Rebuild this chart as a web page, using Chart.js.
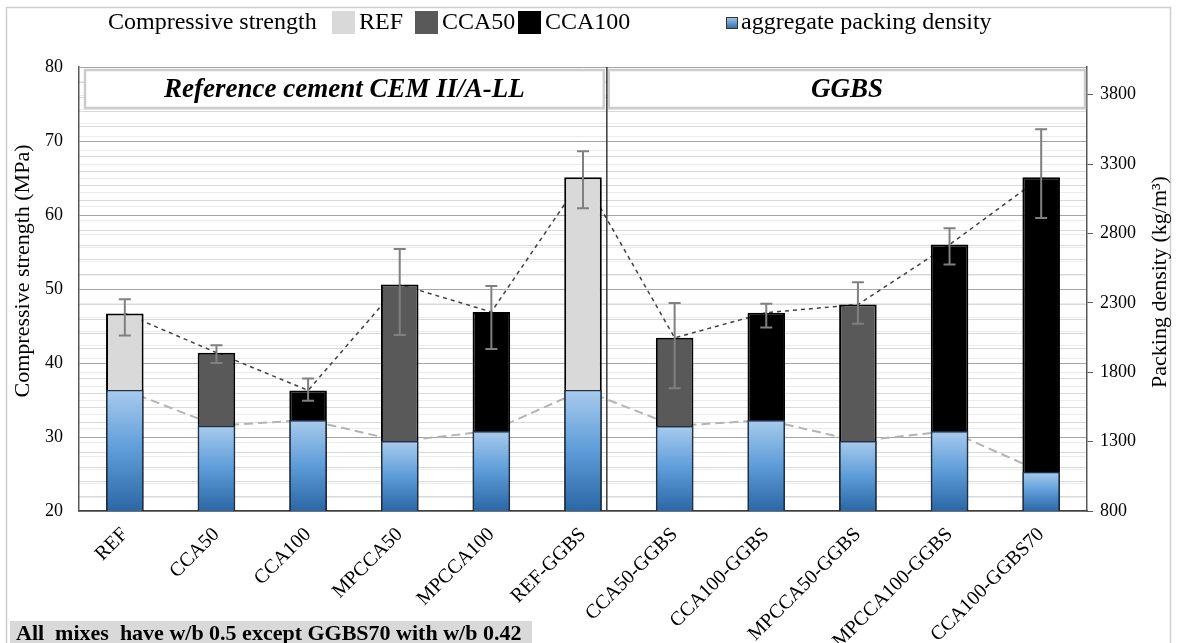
<!DOCTYPE html>
<html>
<head>
<meta charset="utf-8">
<script src="https://cdn.jsdelivr.net/npm/chart.js@4.4.1/dist/chart.umd.min.js"></script>
<style>
  body { margin: 0; background: #fff; }
  #wrap { width: 1177px; height: 643px; }
</style>
</head>
<body>
<div id="wrap"><canvas id="chart" width="1177" height="643"></canvas></div>
<script>
const categories = ['REF', 'CCA50', 'CCA100', 'MPCCA50', 'MPCCA100', 'REF-GGBS',
    'CCA50-GGBS', 'CCA100-GGBS', 'MPCCA50-GGBS', 'MPCCA100-GGBS', 'CCA100-GGBS70'];
const mixType = ['REF', 'CCA50', 'CCA100', 'CCA50', 'CCA100', 'REF',
    'CCA50', 'CCA100', 'CCA50', 'CCA100', 'CCA100'];
const strength = [46.7, 41.4, 36.3, 50.6, 46.9, 65.1, 43.4, 46.8, 47.9, 56.0, 65.1];
const errLow = [43.7, 40.0, 34.9, 43.8, 41.9, 60.9, 36.6, 44.8, 45.3, 53.3, 59.6];
const errHigh = [48.6, 42.4, 37.9, 55.4, 50.4, 68.6, 48.1, 48.0, 50.9, 58.2, 71.6];
const packing = [1672, 1415, 1456, 1304, 1377, 1672, 1413, 1456, 1304, 1377, 1083];
const densityTicks = [800, 1300, 1800, 2300, 2800, 3300, 3800];
const panels = ['Reference cement CEM II/A-LL', 'GGBS'];

const mixColors = { REF: '#d9d9d9', CCA50: '#595959', CCA100: '#000000' };
const SERIF = "'Liberation Serif', 'Times New Roman', serif";

const blueFill = (ctx) => {
    const chart = ctx.chart;
    const area = chart.chartArea;
    if (!area || ctx.type !== 'data') return '#5b9bd5';
    const top = chart.scales.y2.getPixelForValue(packing[ctx.dataIndex]);
    const g = chart.ctx.createLinearGradient(0, top, 0, area.bottom);
    g.addColorStop(0, '#a8cbee');
    g.addColorStop(0.5, '#5d9cd8');
    g.addColorStop(1, '#2b67a4');
    return g;
};

// minor grid, header boxes, divider, error bars, legend, titles, note
const decor = {
    id: 'decor',
    beforeDraw(chart) {
        const { ctx, chartArea: a, scales: { y, y2 } } = chart;
        ctx.save();
        ctx.lineWidth = 1;
        ctx.strokeStyle = '#ececec';
        for (let v = 900; v < 4000; v += 100) {
            const py = Math.round(y2.getPixelForValue(v)) + 0.5;
            ctx.beginPath(); ctx.moveTo(a.left, py); ctx.lineTo(a.right, py); ctx.stroke();
        }
        ctx.strokeStyle = '#d9d9d9';
        for (let v = 22; v < 80; v += 2) {
            if (v % 10 === 0) continue;
            const py = Math.round(y.getPixelForValue(v)) + 0.5;
            ctx.beginPath(); ctx.moveTo(a.left, py); ctx.lineTo(a.right, py); ctx.stroke();
        }
        // outer frame
        ctx.strokeStyle = '#cfcfcf';
        ctx.lineWidth = 1.5;
        ctx.strokeRect(6.5, 7.5, 1164, 700);
        ctx.restore();
    },
    beforeDatasetsDraw(chart) {
        const { ctx, chartArea: a, scales: { x } } = chart;
        const step = x.getPixelForValue(1) - x.getPixelForValue(0);
        const divX = x.getPixelForValue(5) + 0.26 * step;
        ctx.save();
        const boxes = [[a.left + 6, divX - 3], [divX + 2, a.right - 2]];
        boxes.forEach(([l, r], i) => {
            ctx.fillStyle = '#fff';
            ctx.fillRect(l, a.top + 3, r - l, 38);
            ctx.strokeStyle = '#cccccc';
            ctx.lineWidth = 2.5;
            ctx.strokeRect(l, a.top + 3, r - l, 38);
            ctx.fillStyle = '#000';
            ctx.font = `italic bold 27px ${SERIF}`;
            ctx.textAlign = 'center';
            ctx.textBaseline = 'middle';
            ctx.fillText(panels[i], (l + r) / 2, a.top + 23);
        });
        ctx.strokeStyle = '#3a3a3a';
        ctx.lineWidth = 1.5;
        ctx.beginPath(); ctx.moveTo(divX, a.top); ctx.lineTo(divX, a.bottom); ctx.stroke();
        ctx.restore();
    },
    afterDatasetsDraw(chart) {
        const { ctx, scales: { x, y } } = chart;
        ctx.save();
        ctx.strokeStyle = '#808080';
        ctx.lineWidth = 2;
        strength.forEach((v, i) => {
            const px = x.getPixelForValue(i);
            const t = y.getPixelForValue(errHigh[i]);
            const b = y.getPixelForValue(errLow[i]);
            ctx.beginPath();
            ctx.moveTo(px, t); ctx.lineTo(px, b);
            ctx.moveTo(px - 6, t); ctx.lineTo(px + 6, t);
            ctx.moveTo(px - 6, b); ctx.lineTo(px + 6, b);
            ctx.stroke();
        });
        ctx.restore();
    },
    afterDraw(chart) {
        const { ctx } = chart;
        ctx.save();
        ctx.font = `24px ${SERIF}`;
        ctx.fillStyle = '#000';
        ctx.textBaseline = 'middle';
        ctx.textAlign = 'left';
        const ly = 23;
        ctx.fillText('Compressive strength', 108, ly);
        [['REF', 332], ['CCA50', 415], ['CCA100', 518]].forEach(([k, lx]) => {
            ctx.fillStyle = mixColors[k];
            ctx.fillRect(lx, 11, 23, 23);
            ctx.fillStyle = '#000';
            ctx.fillText(k, lx + 27, ly);
        });
        const g = ctx.createLinearGradient(0, 17, 0, 29);
        g.addColorStop(0, '#a8cbee'); g.addColorStop(1, '#2b67a4');
        ctx.fillStyle = g;
        ctx.fillRect(726, 17, 12, 12);
        ctx.strokeStyle = '#333';
        ctx.lineWidth = 1;
        ctx.strokeRect(726.5, 17.5, 11, 11);
        ctx.fillStyle = '#000';
        ctx.fillText('aggregate packing density', 741, ly);

        // axis titles, both reading upwards
        ctx.font = `22px ${SERIF}`;
        ctx.textAlign = 'center';
        [['Compressive strength (MPa)', 23, 271], ['Packing density (kg/m³)', 1160, 282]].forEach(([t, tx, ty]) => {
            ctx.save();
            ctx.translate(tx, ty);
            ctx.rotate(-Math.PI / 2);
            ctx.fillText(t, 0, 0);
            ctx.restore();
        });

        // note
        ctx.fillStyle = '#d9d9d9';
        ctx.fillRect(10, 621, 522, 22);
        ctx.fillStyle = '#000';
        ctx.font = `bold 22px ${SERIF}`;
        ctx.textAlign = 'left';
        ctx.textBaseline = 'alphabetic';
        ctx.fillText('All  mixes  have w/b 0.5 except GGBS70 with w/b 0.42', 16, 640);
        ctx.restore();
    }
};

new Chart(document.getElementById('chart'), {
    data: {
        labels: categories,
        datasets: [
            {
                type: 'bar', label: 'aggregate packing density', data: packing, yAxisID: 'y2',
                backgroundColor: blueFill, borderColor: '#1f2f45', borderWidth: 1.5,
                grouped: false, order: 0, barPercentage: 0.41, categoryPercentage: 1
            },
            {
                type: 'bar', label: 'Compressive strength', data: strength, yAxisID: 'y',
                backgroundColor: mixType.map(k => mixColors[k]), borderColor: '#000', borderWidth: 2,
                grouped: false, order: 1, barPercentage: 0.41, categoryPercentage: 1
            },
            {
                type: 'line', data: strength, yAxisID: 'y', borderColor: '#404040', borderWidth: 1.5,
                borderDash: [4, 4], pointRadius: 0, order: 3
            },
            {
                type: 'line', data: packing, yAxisID: 'y2', borderColor: '#b4b4b4', borderWidth: 2,
                borderDash: [9, 5], pointRadius: 0, order: 3
            }
        ]
    },
    options: {
        responsive: false,
        animation: false,
        devicePixelRatio: 1,
        layout: { padding: { top: 67 } },
        plugins: { legend: { display: false }, tooltip: { enabled: false } },
        scales: {
            x: {
                grid: { display: false },
                border: { display: true, color: '#404040', width: 1.5 },
                ticks: { color: '#000', font: { family: SERIF, size: 20 }, maxRotation: 45, minRotation: 45, padding: 4 },
                afterFit: s => { s.height = 132; }
            },
            y: {
                position: 'left', min: 20, max: 80,
                ticks: { stepSize: 10, color: '#000', font: { family: SERIF, size: 18 }, padding: 16 },
                grid: { color: '#a6a6a6', drawTicks: false },
                border: { display: true, color: '#595959', width: 1.5 },
                afterFit: s => { s.width = 79; }
            },
            y2: {
                position: 'right', min: 800, max: 4000,
                afterBuildTicks: s => { s.ticks = densityTicks.map(v => ({ value: v })); },
                ticks: { color: '#000', font: { family: SERIF, size: 18 }, padding: 7, callback: v => String(v) },
                grid: { drawOnChartArea: false, color: '#595959', tickLength: 6 },
                border: { display: true, color: '#595959', width: 1.5 },
                afterFit: s => { s.width = 90; }
            }
        }
    },
    plugins: [decor]
});
</script>
</body>
</html>
